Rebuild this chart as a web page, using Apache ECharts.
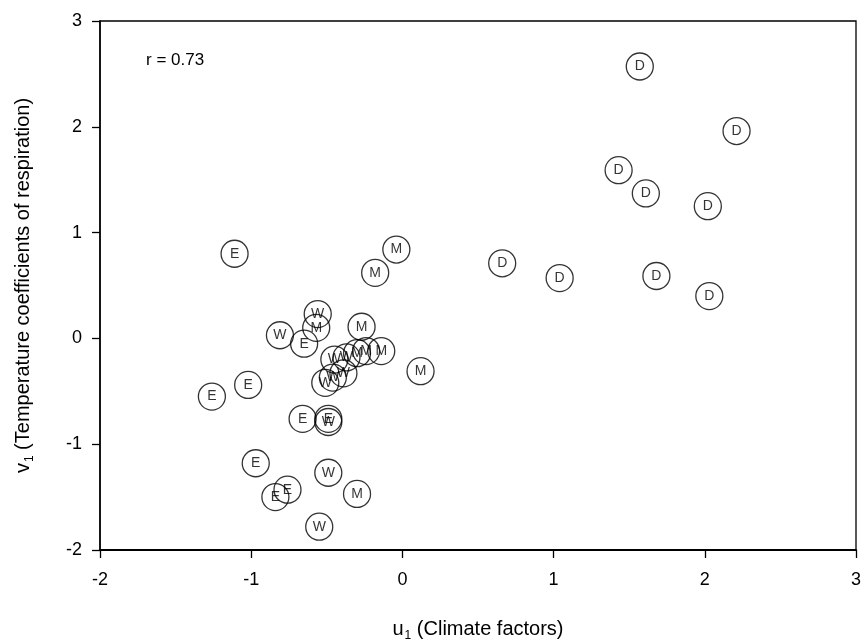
<!DOCTYPE html>
<html>
<head>
<meta charset="utf-8">
<title>u1 vs v1</title>
<script src="https://cdn.jsdelivr.net/npm/echarts@6/dist/echarts.min.js"></script>
<style>
  html, body { margin: 0; padding: 0; background: #fff; }
  #main { width: 863px; height: 640px; }
</style>
</head>
<body>
<div id="main"></div>
<script>
// canonical scores, one list per group: [u1, v1]
var groupD = [[1.57, 2.57], [2.21, 1.96], [1.43, 1.59], [1.61, 1.37], [2.02, 1.25],
              [0.66, 0.71], [1.04, 0.57], [1.68, 0.59], [2.03, 0.40]];
var groupE = [[-1.11, 0.80], [-0.65, -0.05], [-1.02, -0.44], [-1.26, -0.55], [-0.66, -0.76],
              [-0.49, -0.76], [-0.97, -1.18], [-0.76, -1.43], [-0.84, -1.50]];
var groupM = [[-0.04, 0.84], [-0.18, 0.62], [-0.57, 0.10], [-0.27, 0.11], [-0.30, -0.14],
              [-0.24, -0.12], [-0.14, -0.12], [0.12, -0.31], [-0.30, -1.47]];
var groupW = [[-0.56, 0.23], [-0.81, 0.03], [-0.45, -0.20], [-0.37, -0.18], [-0.51, -0.42],
              [-0.46, -0.37], [-0.39, -0.33], [-0.49, -0.79], [-0.49, -1.27], [-0.55, -1.78]];
var groups = [['D', groupD], ['E', groupE], ['M', groupM], ['W', groupW]];
var rText = 'r = 0.73';

var font = 'Liberation Sans, Arial, sans-serif';
var chart = echarts.init(document.getElementById('main'));

var series = groups.map(function (g) {
  return {
    name: g[0],
    type: 'scatter',
    data: g[1],
    symbol: 'circle',
    symbolSize: 27,
    itemStyle: { color: 'rgba(0,0,0,0)', borderColor: '#000', borderWidth: 1.3 },
    label: {
      show: true,
      position: 'inside',
      formatter: g[0],
      color: '#000',
      fontSize: 14,
      fontFamily: font
    },
    emphasis: { disabled: true }
  };
});

var nameRich = {
  n: { fontSize: 20, fontFamily: font, color: '#000' },
  s: { fontSize: 12, fontFamily: font, color: '#000', padding: [14, 0, 0, 1] }
};

var option = {
  animation: false,
  backgroundColor: '#fff',
  grid: {
    left: 100, top: 21, right: 7, bottom: 90,
    outerBoundsMode: 'none', containLabel: false,
    show: true, borderColor: '#000', borderWidth: 1.3
  },
  xAxis: {
    type: 'value', min: -2, max: 3, interval: 1,
    name: '{n|u}{s|1}{n| (Climate factors)}',
    nameLocation: 'middle', nameGap: 66,
    nameTextStyle: { rich: nameRich },
    axisLine: { show: true, onZero: false, lineStyle: { color: '#000', width: 2 } },
    axisTick: { show: true, inside: false, length: 8, lineStyle: { color: '#000', width: 1.3 } },
    axisLabel: { margin: 21, fontSize: 18, color: '#000', fontFamily: font },
    splitLine: { show: false }
  },
  yAxis: {
    type: 'value', min: -2, max: 3, interval: 1,
    name: '{n|v}{s|1}{n| (Temperature coefficients of respiration)}',
    nameLocation: 'middle', nameGap: 64,
    nameTextStyle: { rich: nameRich },
    axisLine: { show: true, onZero: false, lineStyle: { color: '#000', width: 1.5 } },
    axisTick: { show: true, inside: false, length: 8, lineStyle: { color: '#000', width: 1.3 } },
    axisLabel: { margin: 18, fontSize: 18, color: '#000', fontFamily: font },
    splitLine: { show: false }
  },
  graphic: [{
    type: 'text', left: 146, top: 52,
    style: { text: rText, fontSize: 17, fontFamily: font, fill: '#000' }
  }],
  series: series
};

chart.setOption(option);
</script>
</body>
</html>
